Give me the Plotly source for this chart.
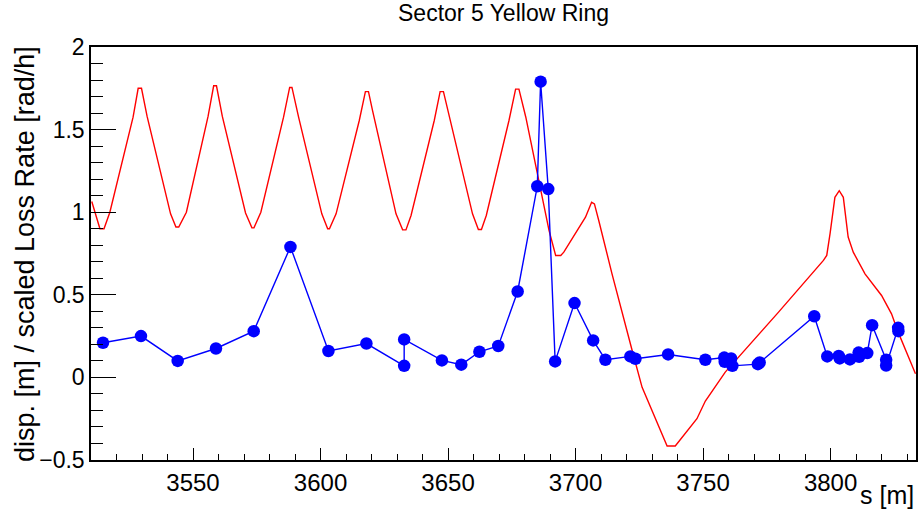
import plotly.graph_objects as go

# Dispersion along s [m]
disp_s = [3510.3, 3513.5, 3515.1, 3517.4, 3526.5, 3528.5, 3529.8, 3532.0, 3541.2, 3543.3,
          3544.4, 3547.4, 3555.9, 3558.1, 3559.2, 3561.5, 3570.6, 3573.1, 3573.9, 3576.6,
          3585.5, 3587.9, 3588.8, 3591.4, 3600.5, 3602.8, 3603.5, 3606.1, 3615.2, 3617.6,
          3618.8, 3620.4, 3629.6, 3632.2, 3633.5, 3635.5, 3644.6, 3646.9, 3648.2, 3650.1,
          3659.6, 3661.9, 3663.1, 3665.0, 3673.9, 3676.5, 3677.8, 3680.5, 3689.6, 3692.2,
          3694.2, 3695.4, 3703.9, 3706.3, 3707.4, 3709.1, 3714.3, 3722.2, 3726.1, 3735.9,
          3739.1, 3747.6, 3750.9, 3758.7, 3779.6, 3797.2, 3798.5, 3799.8, 3801.7, 3803.4,
          3805.0, 3806.9, 3808.9, 3813.5, 3820.0, 3823.9, 3826.5, 3833.3]
disp_val = [1.065, 0.90, 0.90, 1.00, 1.575, 1.75, 1.75, 1.58, 0.99, 0.91,
            0.91, 1.00, 1.58, 1.765, 1.765, 1.58, 0.995, 0.905, 0.905, 1.00,
            1.575, 1.755, 1.755, 1.575, 0.99, 0.90, 0.90, 0.99, 1.555, 1.73,
            1.73, 1.615, 0.99, 0.893, 0.893, 0.98, 1.555, 1.73, 1.73, 1.605,
            0.99, 0.895, 0.895, 0.98, 1.555, 1.745, 1.745, 1.575, 0.89, 0.738,
            0.738, 0.758, 0.97, 1.06, 1.05, 0.95, 0.627, 0.163, -0.06, -0.415,
            -0.415, -0.25, -0.143, 0.032, 0.395, 0.708, 0.738, 0.87, 1.09, 1.13,
            1.09, 0.85, 0.758, 0.627, 0.496, 0.385, 0.274, 0.022]

# Scaled loss rate at the monitors
loss_s = [3514.7, 3529.6, 3544.0, 3559.0, 3573.8, 3588.2, 3603.1, 3618.0, 3632.8, 3632.8,
          3647.6, 3655.2, 3662.3, 3669.7, 3677.3, 3685.0, 3686.3, 3689.3, 3692.0, 3699.6,
          3706.9, 3711.7, 3721.5, 3723.5, 3736.3, 3750.9, 3758.3, 3758.5, 3761.0, 3761.5,
          3771.5, 3772.2, 3793.6, 3798.7, 3803.2, 3803.6, 3807.6, 3811.0, 3811.2, 3814.4,
          3816.3, 3821.8, 3821.8, 3826.5, 3826.6]
loss_val = [0.21, 0.25, 0.10, 0.175, 0.28, 0.79, 0.16, 0.205, 0.07, 0.23,
            0.103, 0.077, 0.155, 0.19, 0.52, 1.157, 1.79, 1.14, 0.097, 0.45,
            0.224, 0.107, 0.127, 0.113, 0.139, 0.107, 0.12, 0.095, 0.115, 0.07,
            0.08, 0.09, 0.37, 0.127, 0.13, 0.115, 0.109, 0.15, 0.125, 0.147,
            0.316, 0.107, 0.072, 0.30, 0.28]

FONT = "Liberation Sans, Arial, Helvetica, sans-serif"

fig = go.Figure()
fig.add_trace(go.Scatter(x=disp_s, y=disp_val, mode="lines",
                         line=dict(color="#ff0000", width=1.4), showlegend=False))
fig.add_trace(go.Scatter(x=loss_s, y=loss_val, mode="lines+markers",
                         line=dict(color="#0000ff", width=1.4),
                         marker=dict(color="#0000ff", size=12.5), showlegend=False))

fig.update_layout(
    width=921, height=512,
    margin=dict(l=91, r=3, t=47, b=52),
    paper_bgcolor="white", plot_bgcolor="white",
    font=dict(family=FONT, color="black"),
    title=dict(text="Sector 5 Yellow Ring", x=0.5, xref="paper", xanchor="center",
               y=0.974, yanchor="middle", font=dict(size=23, family=FONT)),
    xaxis=dict(range=[3510, 3833.5], showgrid=False, zeroline=False,
               tickmode="linear", tick0=3550, dtick=50,
               ticks="inside", ticklen=12, tickwidth=1, tickcolor="black",
               minor=dict(ticks="inside", ticklen=6, dtick=10, tick0=3550, tickcolor="black"),
               showline=True, linecolor="black", linewidth=1.5, mirror=True,
               tickfont=dict(size=24, family=FONT)),
    yaxis=dict(range=[-0.5, 2.0], showgrid=False, zeroline=False,
               tickmode="linear", tick0=-0.5, dtick=0.5,
               ticks="inside", ticklen=25, tickwidth=1, tickcolor="black",
               minor=dict(ticks="inside", ticklen=12, dtick=0.1, tick0=0, tickcolor="black"),
               showline=True, linecolor="black", linewidth=1.5, mirror=True,
               tickfont=dict(size=23, family=FONT)),
    annotations=[
        dict(text="disp. [m] / scaled Loss Rate [rad/h]", textangle=-90,
             xref="paper", yref="paper", x=0, y=1.0, xanchor="center", yanchor="top",
             xshift=-66, yshift=3, showarrow=False, font=dict(size=27, family=FONT)),
        dict(text="s [m]", xref="paper", yref="paper", x=1, y=0,
             xanchor="right", yanchor="top", yshift=-19, showarrow=False,
             font=dict(size=25, family=FONT)),
    ],
)

fig.write_html("out.html")
